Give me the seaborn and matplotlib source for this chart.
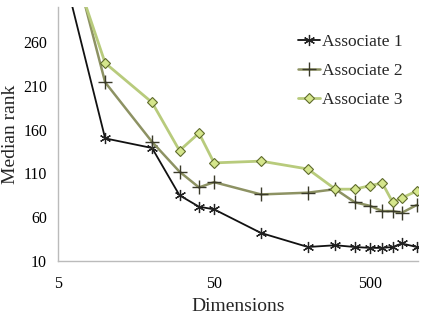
import numpy as np
import pandas as pd
import matplotlib
matplotlib.use("Agg")
import matplotlib.pyplot as plt
import seaborn as sns

# datos
dims = [5, 10, 20, 30, 40, 50, 100, 200, 300, 400, 500, 600, 700, 800, 1000]
assoc_1 = [365, 150, 139, 85, 72, 69, 42, 26, 28, 26, 25, 25, 26, 30, 26]
assoc_2 = [420, 214, 146, 112, 94, 100, 86, 88, 92, 77, 73, 67, 67, 65, 74]
assoc_3 = [395, 236, 191, 136, 156, 122, 124, 115, 92, 92, 96, 99, 77, 82, 90]
labels = ["Associate 1", "Associate 2", "Associate 3"]

sns.set_style("white")
plt.rcParams["font.family"] = ["Liberation Serif", "DejaVu Serif"]

fig = plt.figure(figsize=(4.25, 3.16), dpi=100)
ax = fig.add_axes([0.137, 0.174, 0.847, 0.804])

df1 = pd.DataFrame({"x": dims, "y": assoc_1})
df2 = pd.DataFrame({"x": dims, "y": assoc_2})
df3 = pd.DataFrame({"x": dims, "y": assoc_3})

sns.lineplot(data=df1, x="x", y="y", ax=ax, color="#111111", lw=1.3,
             marker=(6, 2, 0), ms=8, mec="#222222", mew=0.9, label=labels[0])
sns.lineplot(data=df2, x="x", y="y", ax=ax, color="#8d9263", lw=1.8,
             marker="+", ms=10, mec="#3a3a2a", mew=1.0, label=labels[1])
sns.lineplot(data=df3, x="x", y="y", ax=ax, color="#b8cb7c", lw=2.0,
             marker="D", ms=5.5, mfc="#d5e68c", mec="#5f6b2c", mew=0.8, label=labels[2])

ax.set_xscale("log")
ax.set_xlim(5, 1020)
ax.set_ylim(10, 300)
ax.set_xticks([5, 50, 500])
ax.set_xticklabels(["5", "50", "500"])
ax.xaxis.set_minor_locator(matplotlib.ticker.NullLocator())
ax.set_yticks([10, 60, 110, 160, 210, 260])

for s in ["top", "right"]:
    ax.spines[s].set_visible(False)
for s in ["left", "bottom"]:
    ax.spines[s].set_color("#bbbbbb")
    ax.spines[s].set_linewidth(1.0)

ax.tick_params(axis="both", labelsize=11.5, colors="#bbbbbb", labelcolor="black",
               length=3, width=1, direction="out")
ax.tick_params(axis="y", pad=5)
ax.tick_params(axis="x", pad=8)
ax.set_xlabel("Dimensions", fontsize=14, labelpad=4)
ax.set_ylabel("Median rank", fontsize=14)
ax.yaxis.set_label_coords(-0.108, 0.5)

leg = ax.legend(loc="upper right", bbox_to_anchor=(1.0, 0.957), frameon=False,
                fontsize=12.5, handlelength=1.3, handletextpad=0.1, labelspacing=0.75)

fig.savefig("out.png", dpi=100)
